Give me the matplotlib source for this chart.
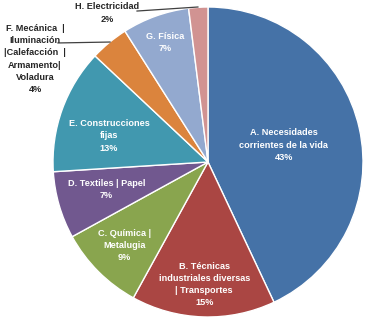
import numpy as np
import matplotlib
matplotlib.use("Agg")
import matplotlib.pyplot as plt
from matplotlib import font_manager

# data
labels = ["A. Necesidades\ncorrientes de la vida",
          "B. Técnicas\nindustriales diversas\n| Transportes",
          "C. Química |\nMetalugia",
          "D. Textiles | Papel",
          "E. Construcciones\nfijas",
          "F. Mecánica  |\nIluminación\n|Calefacción  |\nArmamento|\nVoladura",
          "G. Física",
          "H. Electricidad"]
shares = [43, 15, 9, 7, 13, 4, 7, 2]
colors = ["#4572A7", "#AA4643", "#89A54E", "#71588F",
          "#4198AF", "#DB843D", "#93A9CF", "#D19392"]

# label layout (radius fraction, angle tweak in deg) for inside labels
inside = {0: (0.50, 0.0), 1: (0.79, 0.0), 2: (0.76, 0.0), 3: (0.68, -1.0),
          4: (0.66, 5.0), 6: (0.82, 0.0)}
# outside labels: text position, line start, line end (axes data units)
outside = {5: ((-1.116, 0.665), (-0.968, 0.768), (-0.632, 0.774)),
           7: ((-0.65, 0.961), (-0.458, 0.974), (-0.065, 1.0))}

avail = {f.name for f in font_manager.fontManager.ttflist}
fam = ["Liberation Sans Narrow"] if "Liberation Sans Narrow" in avail else ["Liberation Sans"]
plt.rcParams["font.family"] = fam + ["DejaVu Sans"]

W, H = 371, 328
fig = plt.figure(figsize=(W / 100, H / 100), dpi=100)
cx, cy, r = 208, 162, 155
ax = fig.add_axes([(cx - r) / W, (H - cy - r) / H, 2 * r / W, 2 * r / H])

wedges, _ = ax.pie(shares, colors=colors, startangle=90, counterclock=False,
                   radius=1.0, wedgeprops=dict(edgecolor="white", linewidth=1.0))
ax.set_xlim(-1, 1)
ax.set_ylim(-1, 1)
ax.set_aspect("equal")
ax.axis("off")

total = sum(shares)
for i, w in enumerate(wedges):
    pct = "%d%%" % round(100 * shares[i] / total)
    txt = labels[i] + "\n" + pct
    if i in inside:
        rf, da = inside[i]
        ang = np.deg2rad((w.theta1 + w.theta2) / 2 + da)
        ax.text(rf * np.cos(ang), rf * np.sin(ang), txt, ha="center", va="center",
                color="white", fontsize=6.6, fontweight="bold", linespacing=1.45)
    else:
        (tx, ty), (sx, sy), (lx, ly) = outside[i]
        ax.text(tx, ty, txt, ha="center", va="center", color="#262626",
                fontsize=6.6, fontweight="bold", linespacing=1.45, clip_on=False)
        ax.plot([sx, lx], [sy, ly], color="#404040", linewidth=0.9, clip_on=False)

fig.savefig("out.png", dpi=100)
